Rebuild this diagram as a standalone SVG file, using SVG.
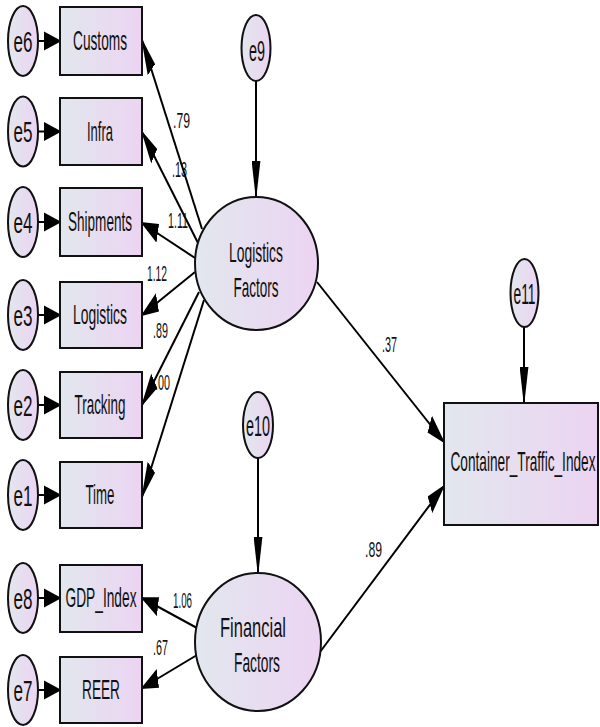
<svg xmlns="http://www.w3.org/2000/svg" width="600" height="727" viewBox="0 0 600 727">
<defs>
<linearGradient id="g" x1="0" y1="0" x2="1" y2="0">
<stop offset="0" stop-color="#e2e7ee"/>
<stop offset="1" stop-color="#ecd4f2"/>
</linearGradient>
<marker id="ah" markerUnits="userSpaceOnUse" markerWidth="18" markerHeight="9" viewBox="0 0 17.5 8.6" refX="16" refY="4.3" orient="auto">
<path d="M0,0 L17.5,4.3 L0,8.6 Z" fill="#000"/>
</marker>
<style>
.n{fill:url(#g);stroke:#111;stroke-width:2}
.t{font-family:"Liberation Sans",Arial,sans-serif;fill:#111;text-anchor:middle}
.b{font-size:28px}
.e{font-size:29px}
.v{font-family:"Liberation Sans",Arial,sans-serif;fill:#111;font-size:22px}
.c line{stroke:#000;stroke-width:2;vector-effect:non-scaling-stroke;marker-end:url(#ah)}
</style>
</defs>
<rect width="600" height="727" fill="#fff"/>

<g id="connectors" class="c" transform="scale(1,2.2)">
<line x1="38" y1="18.636" x2="60" y2="18.636"/>
<line x1="38" y1="59.773" x2="60" y2="59.773"/>
<line x1="38" y1="100.909" x2="60" y2="100.909"/>
<line x1="38" y1="143.182" x2="60" y2="143.182"/>
<line x1="38" y1="184.091" x2="60" y2="184.091"/>
<line x1="38" y1="225" x2="60" y2="225"/>
<line x1="38" y1="271.818" x2="60" y2="271.818"/>
<line x1="38" y1="313.636" x2="60" y2="313.636"/>
<line x1="202" y1="104.091" x2="142" y2="18.182"/>
<line x1="198" y1="110.455" x2="142" y2="60"/>
<line x1="195" y1="117.273" x2="142" y2="101.364"/>
<line x1="195" y1="123.636" x2="142" y2="143.182"/>
<line x1="199" y1="132.727" x2="142" y2="184.091"/>
<line x1="204" y1="136.364" x2="142" y2="225.909"/>
<line x1="197" y1="285.455" x2="142" y2="271.818"/>
<line x1="197" y1="297.727" x2="142" y2="312.727"/>
<line x1="317" y1="128.182" x2="444" y2="200.909"/>
<line x1="320" y1="296.364" x2="444" y2="220.909"/>
<line x1="256" y1="36.818" x2="256" y2="89.545"/>
<line x1="258" y1="208.182" x2="258" y2="260.455"/>
<line x1="524" y1="148.636" x2="524" y2="183.182"/>
</g>

<g id="n-customs"><rect class="n" x="60" y="7" width="82" height="68"/><text class="t b" x="100" y="50" textLength="54" lengthAdjust="spacingAndGlyphs">Customs</text></g>
<g id="n-infra"><rect class="n" x="60" y="98" width="82" height="67"/><text class="t b" x="100" y="141" textLength="26" lengthAdjust="spacingAndGlyphs">Infra</text></g>
<g id="n-shipments"><rect class="n" x="60" y="188" width="82" height="68"/><text class="t b" x="100" y="231" textLength="64" lengthAdjust="spacingAndGlyphs">Shipments</text></g>
<g id="n-logistics"><rect class="n" x="60" y="282" width="82" height="66"/><text class="t b" x="100" y="324" textLength="54" lengthAdjust="spacingAndGlyphs">Logistics</text></g>
<g id="n-tracking"><rect class="n" x="60" y="372" width="82" height="66"/><text class="t b" x="100" y="414" textLength="51" lengthAdjust="spacingAndGlyphs">Tracking</text></g>
<g id="n-time"><rect class="n" x="60" y="462" width="82" height="66"/><text class="t b" x="100" y="504" textLength="29" lengthAdjust="spacingAndGlyphs">Time</text></g>
<g id="n-gdp"><rect class="n" x="60" y="565" width="82" height="67"/><text class="t b" x="101" y="607" textLength="71" lengthAdjust="spacingAndGlyphs">GDP_Index</text></g>
<g id="n-reer"><rect class="n" x="60" y="657" width="82" height="66"/><text class="t b" x="101" y="699" textLength="38" lengthAdjust="spacingAndGlyphs">REER</text></g>
<g id="n-cti"><rect class="n" x="444" y="403" width="154" height="122"/><text class="t b" x="523" y="471" textLength="145" lengthAdjust="spacingAndGlyphs">Container_Traffic_Index</text></g>

<g id="n-e6"><ellipse class="n" cx="23" cy="41" rx="15" ry="35"/><text class="t e" x="23" y="51.5" textLength="19" lengthAdjust="spacingAndGlyphs">e6</text></g>
<g id="n-e5"><ellipse class="n" cx="23" cy="131.5" rx="15" ry="35"/><text class="t e" x="23" y="142" textLength="19" lengthAdjust="spacingAndGlyphs">e5</text></g>
<g id="n-e4"><ellipse class="n" cx="23" cy="222" rx="15" ry="35"/><text class="t e" x="23" y="232.5" textLength="19" lengthAdjust="spacingAndGlyphs">e4</text></g>
<g id="n-e3"><ellipse class="n" cx="23" cy="315" rx="15" ry="35"/><text class="t e" x="23" y="325.5" textLength="19" lengthAdjust="spacingAndGlyphs">e3</text></g>
<g id="n-e2"><ellipse class="n" cx="23" cy="405" rx="15" ry="35"/><text class="t e" x="23" y="415.5" textLength="19" lengthAdjust="spacingAndGlyphs">e2</text></g>
<g id="n-e1"><ellipse class="n" cx="23" cy="495" rx="15" ry="35"/><text class="t e" x="23" y="505.5" textLength="19" lengthAdjust="spacingAndGlyphs">e1</text></g>
<g id="n-e8"><ellipse class="n" cx="23" cy="598" rx="15" ry="35"/><text class="t e" x="23" y="608.5" textLength="19" lengthAdjust="spacingAndGlyphs">e8</text></g>
<g id="n-e7"><ellipse class="n" cx="23" cy="690" rx="15" ry="35"/><text class="t e" x="23" y="700.5" textLength="19" lengthAdjust="spacingAndGlyphs">e7</text></g>
<g id="n-e9"><ellipse class="n" cx="256" cy="48" rx="14.5" ry="33"/><text class="t e" x="257" y="61" textLength="16" lengthAdjust="spacingAndGlyphs">e9</text></g>
<g id="n-e10"><ellipse class="n" cx="258" cy="425" rx="15" ry="33"/><text class="t e" x="258" y="436" textLength="24" lengthAdjust="spacingAndGlyphs">e10</text></g>
<g id="n-e11"><ellipse class="n" cx="524.5" cy="293" rx="14" ry="34"/><text class="t e" x="524.5" y="304" textLength="22" lengthAdjust="spacingAndGlyphs">e11</text></g>

<g id="n-logfac"><ellipse class="n" cx="256.5" cy="263.5" rx="61.5" ry="66.5"/><text class="t b" x="256" y="262" textLength="54" lengthAdjust="spacingAndGlyphs">Logistics</text><text class="t b" x="256" y="297" textLength="45" lengthAdjust="spacingAndGlyphs">Factors</text></g>
<g id="n-finfac"><ellipse class="n" cx="258" cy="642" rx="63" ry="69"/><text class="t b" x="253" y="637" textLength="66" lengthAdjust="spacingAndGlyphs">Financial</text><text class="t b" x="257" y="672" textLength="46" lengthAdjust="spacingAndGlyphs">Factors</text></g>

<g id="labels">
<text class="v" x="173" y="128" textLength="17" lengthAdjust="spacingAndGlyphs">.79</text>
<text class="v" x="172" y="177" textLength="15" lengthAdjust="spacingAndGlyphs">.13</text>
<text class="v" x="168" y="228" textLength="20" lengthAdjust="spacingAndGlyphs">1.11</text>
<text class="v" x="147" y="281" textLength="20" lengthAdjust="spacingAndGlyphs">1.12</text>
<text class="v" x="153" y="338" textLength="15" lengthAdjust="spacingAndGlyphs">.89</text>
<text class="v" x="155" y="390" textLength="15" lengthAdjust="spacingAndGlyphs">.00</text>
<text class="v" x="173" y="608" textLength="19" lengthAdjust="spacingAndGlyphs">1.06</text>
<text class="v" x="153" y="655" textLength="15" lengthAdjust="spacingAndGlyphs">.67</text>
<text class="v" x="382" y="352" textLength="15" lengthAdjust="spacingAndGlyphs">.37</text>
<text class="v" x="365" y="557" textLength="17" lengthAdjust="spacingAndGlyphs">.89</text>
</g>
</svg>
